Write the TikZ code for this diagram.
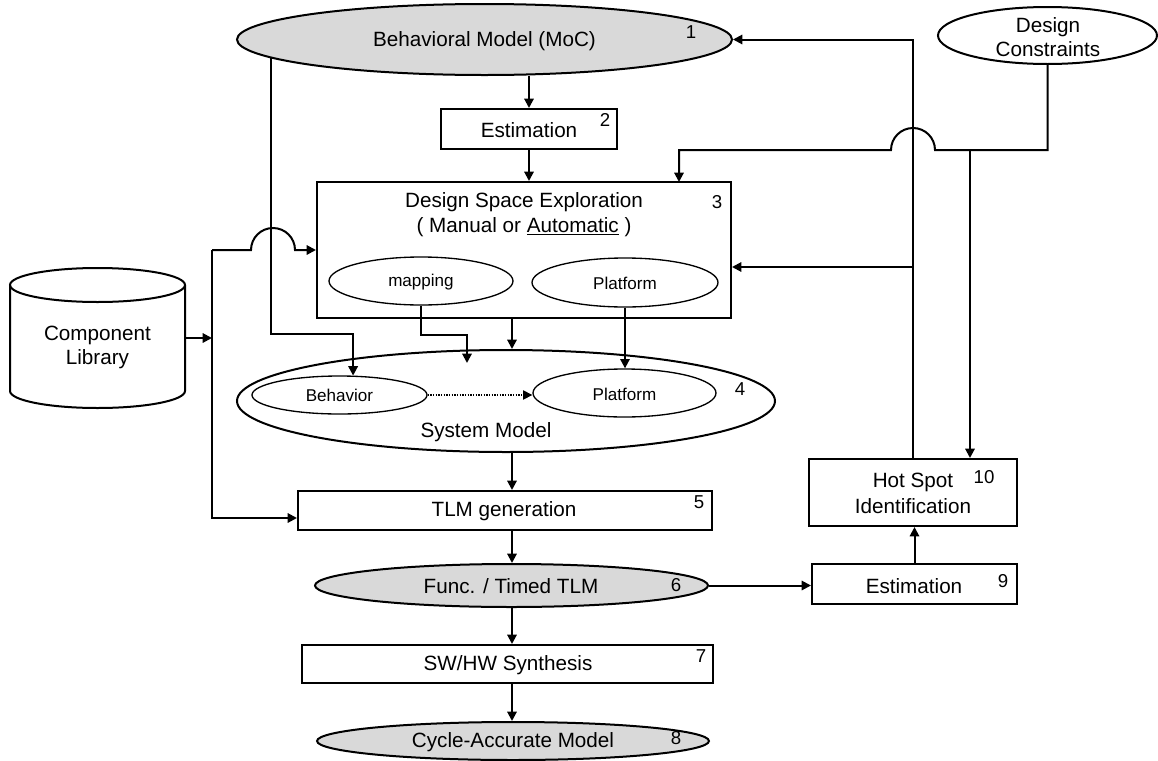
\documentclass[tikz,border=0pt]{standalone}
\usepackage{fontspec}
\setmainfont{Liberation Sans}
\usetikzlibrary{shapes.geometric,arrows.meta,calc}
\definecolor{modelgray}{RGB}{217,217,217}

\begin{document}
\begin{tikzpicture}[x=0.75pt,y=-0.75pt,
  sz/.style 2 args={minimum width=#1*0.75pt, minimum height=#2*0.75pt},
  box/.style={draw, line width=1.5pt, inner sep=0pt},
  oval/.style={ellipse, draw, line width=1.5pt, inner sep=0pt},
  inoval/.style={ellipse, draw, line width=1pt, inner sep=0pt, fill=white},
  lbl/.style={font=\fontsize{15.5}{18.5}\selectfont, align=center, inner sep=0pt},
  slbl/.style={font=\fontsize{12.8}{15}\selectfont, inner sep=0pt},
  num/.style={font=\fontsize{14}{16}\selectfont, inner sep=0pt},
  tip/.style={-{Triangle[length=7pt,width=7pt]}},
  arr/.style={line width=1.5pt, tip},
  wire/.style={line width=1.5pt},
]
\useasboundingbox (0,0) rectangle (1158,761);

% ---- models and steps ----
\node[oval, fill=modelgray, sz={495}{71}] (beh) at (484.5,39.5) {};
\node[lbl] (behT) at (484.5,41) {Behavioral Model (MoC)};
\node[num] (n1) at (691,32) {1};

\node[box, sz={176}{40}] (est2) at (529,129) {};
\node[lbl] (est2T) at (529,130) {Estimation};
\node[num] (n2) at (605,120) {2};

\node[box, sz={414}{136}] (dse) at (524,250) {};
\node[lbl] (dseT) at (524,214.5) {Design Space Exploration\\( Manual or \underline{Automatic} )};
\node[num] (n3) at (717,202) {3};
\node[inoval, sz={184}{48}] (map) at (421,281) {};
\node[slbl] (mapT) at (421,282) {mapping};
\node[inoval, sz={186}{49}] (plat1) at (625,282.5) {};
\node[slbl] (plat1T) at (625,283) {Platform};

\node[oval, sz={219}{57}] (dc) at (1047.5,35.5) {};
\node[lbl, font=\fontsize{15.5}{18}\selectfont] (dcT) at (1048,37) {Design\\Constraints};

% component library (cylinder)
\node[sz={175}{140}, inner sep=0pt] (lib) at (97.5,338) {};
\draw[wire] (10,285) -- (10,391) arc[start angle=180,end angle=0,x radius=87.5,y radius=17] -- (185,285);
\draw[wire] (97.5,285) ellipse[x radius=87.5, y radius=17];
\node[lbl] (libT) at (97.5,347.5) {Component\\Library};

\node[oval, sz={538}{102}] (sys) at (506,401) {};
\node[inoval, sz={175}{38}] (behav) at (339.5,395) {};
\node[slbl] (behavT) at (339.5,395.5) {Behavior};
\node[inoval, sz={183}{48}] (plat2) at (624.5,393) {};
\node[slbl] (plat2T) at (624.5,394) {Platform};
\node[lbl] (sysT) at (486,432) {System Model};
\node[num] (n4) at (740,389) {4};

\node[box, sz={414}{39}] (tlm) at (505,510.5) {};
\node[lbl] (tlmT) at (504,511) {TLM generation};
\node[num] (n5) at (699,502) {5};

\node[oval, fill=modelgray, sz={393}{43}] (func) at (511.5,585.5) {};
\node[lbl] (funcT) at (511,586) {Func. / Timed TLM};
\node[num] (n6) at (676,585) {6};

\node[box, sz={411}{38}] (sw) at (507.5,664) {};
\node[lbl] (swT) at (508,665) {SW/HW Synthesis};
\node[num] (n7) at (701,656) {7};

\node[oval, fill=modelgray, sz={392}{38}] (cyc) at (513,741) {};
\node[lbl] (cycT) at (513,742) {Cycle-Accurate Model};
\node[num] (n8) at (676,738) {8};

\node[box, sz={205}{40}] (est9) at (914.5,584) {};
\node[lbl] (est9T) at (914,586) {Estimation};
\node[num] (n9) at (1003,581) {9};

\node[box, sz={208}{67}] (hot) at (913,492.5) {};
\node[lbl, font=\fontsize{15.5}{19.5}\selectfont] (hotT) at (913,493) {Hot Spot\\Identification};
\node[num] (n10) at (984,477) {10};

% ---- helper points ----
\coordinate (spine) at (512,0);
\coordinate (mapEnd) at (467,363);
\coordinate (fb) at (913,267);
\coordinate (dcJ) at (970,150);
\coordinate (dcIn) at (679,182);
\coordinate (busT) at (212,250);
\coordinate (busB) at (212,518);

% ---- connectors ----
\draw[arr] (est2.north |- beh.south) -- (est2.north);
\draw[arr] (est2.south) -- (est2.south |- dse.north);
\draw[arr] (beh.185) -- (beh.185 |- 0,334) -| (behav.55);
\draw[arr] (map.south) -- ++(0,29) -| (mapEnd);
\draw[arr] (dse.south -| spine) -- (sys.north -| spine);
\draw[arr] (plat1.south) -- (plat1.south |- plat2.north);
\draw[line width=1pt, dash pattern=on 1pt off 1pt, tip] (behav.east) -- (behav.east -| plat2.west);
\draw[arr] (sys.south -| spine) -- (tlm.north -| spine);
\draw[arr] (tlm.south -| spine) -- (func.north -| spine);
\draw[arr] (func.south -| spine) -- (sw.north -| spine);
\draw[arr] (sw.south -| spine) -- (cyc.north -| spine);
\draw[arr] (func.east) -- (func.east -| est9.west);
\draw[arr] (est9.north) -- (est9.north |- hot.south);
\draw[arr] (hot.north) |- (beh.east);
\draw[arr] (fb) -- (fb -| dse.east);
\draw[arr] (dc.south) |- (935,150) arc[start angle=0,end angle=-180,radius=22] -| (dcIn);
\draw[arr] (dcJ) -- (dcJ |- hot.north);
\draw[arr] (lib.east) -- (lib.east -| busT);
\draw[arr] (busT) -- (251,250) arc[start angle=180,end angle=360,radius=22] -- (dse.west);
\draw[arr] (busT) -- (busB) -- (busB -| tlm.west);
\end{tikzpicture}
\end{document}
